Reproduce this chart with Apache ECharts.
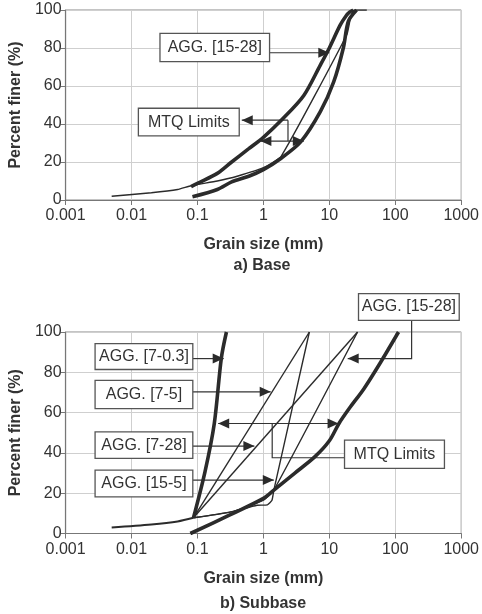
<!DOCTYPE html>
<html>
<head>
<meta charset="utf-8">
<script src="https://cdn.jsdelivr.net/npm/echarts@6/dist/echarts.min.js"></script>
<style>
  html, body { margin: 0; padding: 0; background: #fff; }
  #chart { width: 482px; height: 614px; }
</style>
</head>
<body>
<div id="chart"></div>
<script>
// grain size (mm), percent finer (%)
const baseUpper = [[0.08, 7], [0.1, 8.8], [0.2, 14], [0.33, 20], [0.6, 27], [1, 33], [2, 43], [4.1, 55], [7.3, 71], [10, 80], [14.6, 92], [18, 97], [20.5, 99], [23, 100]];
const baseLower = [[0.084, 1.7], [0.2, 5.5], [0.33, 9.5], [0.6, 12.5], [1, 16], [1.86, 22], [3.7, 30.7], [7.3, 46.5], [11.6, 62], [16.3, 80], [19.4, 94], [25.9, 100]];
const baseAgg15_28 = [[0.005, 2], [0.02, 3.8], [0.05, 5.5], [0.08, 7.5], [0.2, 10], [0.4, 12.5], [1, 17], [1.86, 23], [18.4, 87], [21, 96], [24, 100], [37, 100]];

const subFines = [[0.005, 3], [0.02, 4.5], [0.05, 6], [0.087, 7.8]];
const subUpper = [[0.087, 7.8], [0.13, 30.6], [0.18, 54.6], [0.23, 87], [0.275, 100]];
const subLower = [[0.078, 0], [0.31, 9.2], [1, 17.4], [1.44, 21.5], [3, 30], [6, 38], [10, 46], [14, 54.6], [20, 62], [33.7, 72], [60, 85], [112, 100]];
const subAgg7_5 = [[0.087, 7.8], [4.98, 100]];
const subAgg7_28 = [[0.087, 7.8], [26.8, 100]];
const subAgg15_5 = [[0.087, 7.8], [0.3, 10.5], [0.8, 14], [1.15, 14.2], [1.35, 16.5], [1.44, 21.5], [4.98, 100]];
const subAgg15_28 = [[0.087, 7.8], [0.35, 11], [1, 16.5], [1.44, 21.5], [26.8, 100]];

const xTicks = [0.001, 0.01, 0.1, 1, 10, 100, 1000];
const yTicks = [0, 20, 40, 60, 80, 100];

// annotation boxes and leader arrows, in data units of each grid
const labelBoxes = [
  { grid: 0, text: 'AGG. [15-28]', x: [0.027, 1.24], y: [72.8, 87.7] },
  { grid: 0, text: 'MTQ Limits', x: [0.0127, 0.43], y: [33.7, 48.3] },
  { grid: 1, text: 'AGG. [15-28]', x: [27.7, 933], y: [105.8, 119] },
  { grid: 1, text: 'AGG. [7-0.3]', x: [0.0028, 0.085], y: [81.4, 94.2] },
  { grid: 1, text: 'AGG. [7-5]', x: [0.0028, 0.085], y: [62, 76] },
  { grid: 1, text: 'AGG. [7-28]', x: [0.0028, 0.085], y: [37.3, 50.4] },
  { grid: 1, text: 'AGG. [15-5]', x: [0.0028, 0.085], y: [18.2, 31.5] },
  { grid: 1, text: 'MTQ Limits', x: [17, 557], y: [32.3, 46.3] }
];
const leaders = [
  { grid: 0, pts: [[1.24, 77.5], [10, 77.5]], end: true },
  { grid: 0, pts: [[2.36, 42], [0.47, 42]], end: true },
  { grid: 0, pts: [[2.36, 42], [2.36, 31]] },
  { grid: 0, pts: [[0.9, 31], [4.1, 31]], start: true, end: true },
  { grid: 1, pts: [[177, 105.8], [177, 86.8], [19, 86.8]], end: true },
  { grid: 1, pts: [[0.085, 86.8], [0.25, 86.8]], end: true },
  { grid: 1, pts: [[0.085, 70.3], [1.29, 70.3]], end: true },
  { grid: 1, pts: [[0.085, 43.4], [0.73, 43.4]], end: true },
  { grid: 1, pts: [[0.085, 26.5], [1.44, 26.5]], end: true },
  { grid: 1, pts: [[17, 37.6], [1.36, 37.6], [1.36, 54.6]] },
  { grid: 1, pts: [[0.206, 54.6], [13.8, 54.6]], start: true, end: true }
];

const FONT = '"Liberation Sans", Arial, Helvetica, sans-serif';
const INK = '#2b2b2b';

function xAxisOf(i) {
  return {
    type: 'log', logBase: 10, gridIndex: i, min: 0.001, max: 1000,
    name: 'Grain size (mm)', nameLocation: 'middle', nameGap: 37,
    nameTextStyle: { fontFamily: FONT, fontSize: 16, fontWeight: 'bold', color: '#333' },
    axisLine: { show: true, lineStyle: { color: '#777', width: 1.2 } },
    axisTick: { show: true, length: 5, lineStyle: { color: '#777' } },
    minorTick: { show: false },
    axisLabel: {
      fontFamily: FONT, fontSize: 16, color: '#333', margin: 8,
      formatter: v => {
        const k = xTicks.find(t => Math.abs(Math.log10(t) - Math.log10(v)) < 1e-6);
        return k === undefined ? '' : String(k);
      }
    },
    splitLine: { show: true, lineStyle: { color: '#cfcfcf', width: 1 } }
  };
}
function yAxisOf(i) {
  return {
    type: 'value', gridIndex: i, min: 0, max: 100, interval: 20,
    name: 'Percent finer (%)', nameLocation: 'middle', nameGap: 36,
    nameTextStyle: { fontFamily: FONT, fontSize: 16, fontWeight: 'bold', color: '#333' },
    axisLine: { show: true, lineStyle: { color: '#777', width: 1.2 } },
    axisTick: { show: true, length: 5, lineStyle: { color: '#777' } },
    axisLabel: { fontFamily: FONT, fontSize: 16, color: '#333', margin: 4,
      formatter: v => yTicks.indexOf(v) >= 0 ? String(v) : '' },
    splitLine: { show: true, lineStyle: { color: '#cfcfcf', width: 1 } }
  };
}
function curve(name, data, gi, width, smooth) {
  return {
    name, type: 'line', data, xAxisIndex: gi, yAxisIndex: gi,
    symbol: 'none', smooth: smooth || false, silent: true,
    lineStyle: { color: INK, width }
  };
}

const chart = echarts.init(document.getElementById('chart'), null, { renderer: 'canvas' });
chart.setOption({
  animation: false,
  backgroundColor: '#fff',
  grid: [
    { left: 61, right: 19, top: 10, height: 190, show: true, borderColor: '#888', borderWidth: 1, backgroundColor: 'transparent' },
    { left: 63, right: 18, top: 332, height: 201.5, show: true, borderColor: '#888', borderWidth: 1, backgroundColor: 'transparent' }
  ],
  xAxis: [xAxisOf(0), xAxisOf(1)],
  yAxis: [yAxisOf(0), yAxisOf(1)],
  series: [
    curve('Base AGG [15-28]', baseAgg15_28, 0, 1.4, 0.15),
    curve('Base MTQ upper', baseUpper, 0, 3.6, 0.3),
    curve('Base MTQ lower', baseLower, 0, 3.6, 0.3),
    curve('Subbase fines', subFines, 1, 2, 0.3),
    curve('AGG [7-5]', subAgg7_5, 1, 1.4),
    curve('AGG [7-28]', subAgg7_28, 1, 1.4),
    curve('AGG [15-5]', subAgg15_5, 1, 1.4, 0.15),
    curve('AGG [15-28]', subAgg15_28, 1, 1.4, 0.15),
    curve('AGG [7-0.3] / MTQ upper', subUpper, 1, 3.6, 0.3),
    curve('MTQ lower', subLower, 1, 3.6, 0.3)
  ]
});

// annotation layer, placed through the axes
function arrowHead(tip, from) {
  const dx = tip[0] - from[0], dy = tip[1] - from[1];
  const len = Math.hypot(dx, dy) || 1;
  const ux = dx / len, uy = dy / len;
  const L = 11, W = 5;
  const bx = tip[0] - ux * L, by = tip[1] - uy * L;
  return {
    type: 'polygon', silent: true,
    shape: { points: [tip, [bx - uy * W, by + ux * W], [bx + uy * W, by - ux * W]] },
    style: { fill: INK }
  };
}
const els = [];
leaders.forEach(a => {
  const p = a.pts.map(d => chart.convertToPixel({ gridIndex: a.grid }, d));
  els.push({ type: 'polyline', silent: true, shape: { points: p }, style: { stroke: '#333', lineWidth: 1.2, fill: null } });
  if (a.end) els.push(arrowHead(p[p.length - 1], p[p.length - 2]));
  if (a.start) els.push(arrowHead(p[0], p[1]));
});
labelBoxes.forEach(b => {
  const p0 = chart.convertToPixel({ gridIndex: b.grid }, [b.x[0], b.y[1]]);
  const p1 = chart.convertToPixel({ gridIndex: b.grid }, [b.x[1], b.y[0]]);
  els.push({
    type: 'rect', silent: true,
    shape: { x: p0[0], y: p0[1], width: p1[0] - p0[0], height: p1[1] - p0[1] },
    style: { fill: '#fff', stroke: '#555', lineWidth: 1.3 }
  });
  els.push({
    type: 'text', silent: true,
    style: { x: (p0[0] + p1[0]) / 2, y: (p0[1] + p1[1]) / 2, text: b.text, align: 'center', verticalAlign: 'middle',
      font: '16px ' + FONT, fill: '#333' }
  });
});
const c0 = chart.convertToPixel({ gridIndex: 0 }, [1, 0]);
const c1 = chart.convertToPixel({ gridIndex: 1 }, [1, 0]);
els.push({ type: 'text', silent: true, style: { x: 262, y: c0[1] + 66, text: 'a) Base', align: 'center', verticalAlign: 'middle', font: 'bold 16px ' + FONT, fill: '#333' } });
els.push({ type: 'text', silent: true, style: { x: 263, y: c1[1] + 70, text: 'b) Subbase', align: 'center', verticalAlign: 'middle', font: 'bold 16px ' + FONT, fill: '#333' } });
chart.setOption({ graphic: { elements: els } });
</script>
</body>
</html>
